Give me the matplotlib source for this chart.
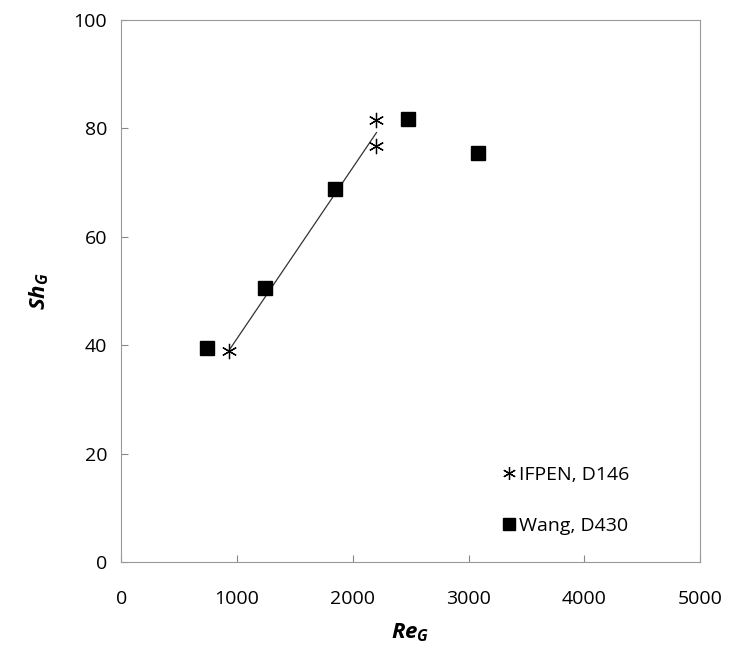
import matplotlib.pyplot as plt
import numpy as np

# datos
re_ifpen = [930, 2200, 2205]
sh_ifpen = [39.0, 81.5, 76.8]
re_wang = [745, 1240, 1850, 2475, 3080]
sh_wang = [39.5, 50.5, 68.8, 81.8, 75.4]

plt.rcParams['font.family'] = ['Open Sans', 'DejaVu Sans']
plt.rcParams['mathtext.fontset'] = 'custom'
plt.rcParams['mathtext.it'] = 'Open Sans:italic:bold'
plt.rcParams['mathtext.rm'] = 'Open Sans:bold'

fig = plt.figure(figsize=(7.3, 6.66), dpi=100)
ax = fig.add_axes([0.166, 0.156, 0.793, 0.814])

# tendencia lineal IFPEN
p = np.polyfit(re_ifpen, sh_ifpen, 1)
xl = np.array([min(re_ifpen), max(re_ifpen)])
ax.plot(xl, np.polyval(p, xl), color='#333333', lw=0.9, zorder=1)

ax.plot(re_ifpen, sh_ifpen, ls='none', marker=(6, 2, 0), ms=11, mew=0.9,
        color='black', label='IFPEN, D146', zorder=3)
ax.plot(re_wang, sh_wang, ls='none', marker='s', ms=10, color='black',
        label='Wang, D430', zorder=3)

ax.set_xlim(0, 5000)
ax.set_ylim(0, 100)
ax.set_xticks(np.arange(0, 5001, 1000))
ax.set_yticks(np.arange(0, 101, 20))
ax.tick_params(direction='in', length=5, color='#888888', labelsize=14, pad=10)
ax.tick_params(axis='x', pad=20)
for s in ax.spines.values():
    s.set_color('#999999')

ax.set_xlabel(r'$Re_G$', fontsize=16, labelpad=10)
ax.set_ylabel(r'$Sh_G$', fontsize=16, labelpad=16)

ax.legend(loc='lower right', bbox_to_anchor=(0.925, 0.0), frameon=False,
          fontsize=14, handlelength=0.5, handletextpad=0.25, labelspacing=1.7,
          markerscale=0.85, borderaxespad=1.0)

plt.savefig('out.png', dpi=100)
